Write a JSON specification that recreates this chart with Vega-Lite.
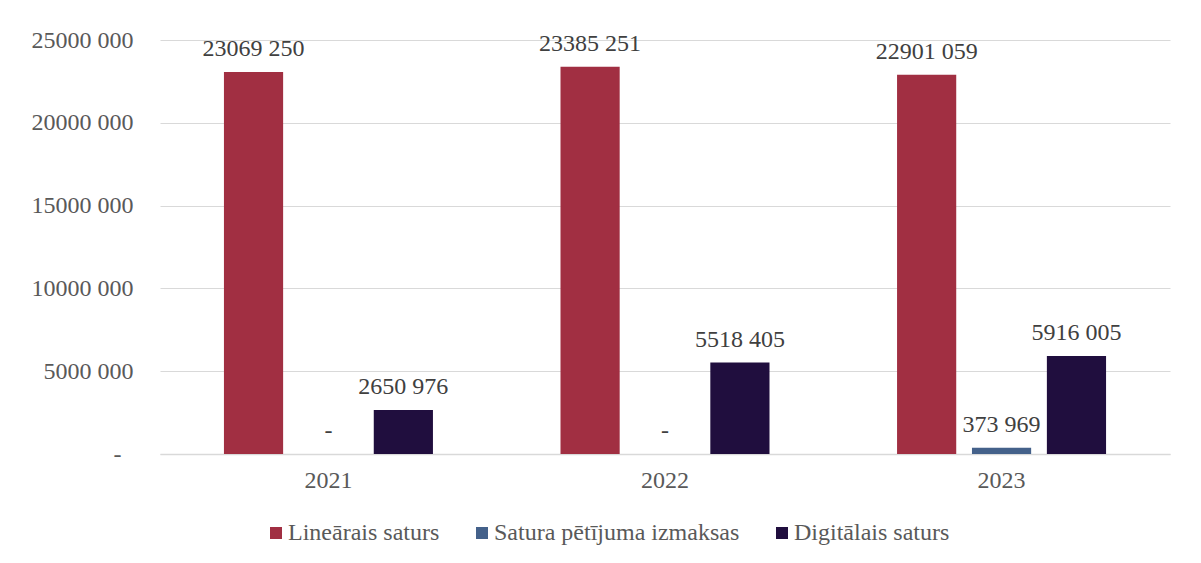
{
  "$schema": "https://vega.github.io/schema/vega-lite/v6.json",
  "width": 1010,
  "height": 414,
  "autosize": {"type": "none"},
  "padding": {"left": 160, "top": 40, "right": 31, "bottom": 109},
  "background": "white",
  "config": {
    "font": "Liberation Serif",
    "text": {"font": "Liberation Serif"},
    "axis": {"labelFont": "Liberation Serif"},
    "legend": {"labelFont": "Liberation Serif"},
    "view": {"stroke": null}
  },
  "data": {
    "values": [
      {"year": "2021", "series": "Lineārais saturs", "value": 23069250},
      {"year": "2021", "series": "Satura pētījuma izmaksas", "value": 0},
      {"year": "2021", "series": "Digitālais saturs", "value": 2650976},
      {"year": "2022", "series": "Lineārais saturs", "value": 23385251},
      {"year": "2022", "series": "Satura pētījuma izmaksas", "value": 0},
      {"year": "2022", "series": "Digitālais saturs", "value": 5518405},
      {"year": "2023", "series": "Lineārais saturs", "value": 22901059},
      {"year": "2023", "series": "Satura pētījuma izmaksas", "value": 373969},
      {"year": "2023", "series": "Digitālais saturs", "value": 5916005}
    ]
  },
  "transform": [
    {"calculate": "datum.value == 0 ? '-' : (datum.value >= 1000 ? format(floor(datum.value / 1000), 'd') + ' ' + format(datum.value % 1000, '03d') : format(datum.value, 'd'))", "as": "label"}
  ],
  "encoding": {
    "x": {
      "field": "year",
      "type": "nominal",
      "scale": {"paddingInner": 0.379, "paddingOuter": 0.19},
      "axis": {
        "title": null,
        "labelAngle": 0,
        "labelFont": "Liberation Serif",
        "labelFontSize": 24,
        "labelColor": "#595959",
        "labelPadding": 14,
        "ticks": false,
        "domain": true,
        "domainColor": "#D9D9D9",
        "domainWidth": 1.5,
        "grid": false
      }
    },
    "xOffset": {
      "field": "series",
      "type": "nominal",
      "sort": ["Lineārais saturs", "Satura pētījuma izmaksas", "Digitālais saturs"],
      "scale": {"paddingInner": 0.21, "paddingOuter": 0}
    },
    "y": {
      "field": "value",
      "type": "quantitative",
      "scale": {"domain": [0, 25000000], "nice": false},
      "axis": {
        "title": null,
        "values": [0, 5000000, 10000000, 15000000, 20000000, 25000000],
        "labelExpr": "datum.value == 0 ? '-' : format(floor(datum.value / 1000), 'd') + ' ' + format(datum.value % 1000, '03d')",
        "labelFont": "Liberation Serif",
        "labelFontSize": 24,
        "labelColor": "#595959",
        "labelPadding": {"condition": {"test": "datum.value == 0", "value": 39}, "value": 27},
        "ticks": false,
        "domain": false,
        "grid": true,
        "gridColor": "#D9D9D9",
        "gridWidth": 1
      }
    }
  },
  "layer": [
    {
      "mark": {"type": "bar"},
      "encoding": {
        "color": {
          "field": "series",
          "type": "nominal",
          "scale": {
            "domain": ["Lineārais saturs", "Satura pētījuma izmaksas", "Digitālais saturs"],
            "range": ["#A12F42", "#44618A", "#200E3E"]
          },
          "legend": {
            "title": null,
            "orient": "none",
            "legendX": 104,
            "legendY": 481,
            "direction": "horizontal",
            "symbolType": "square",
            "symbolSize": 144,
            "symbolStrokeWidth": 0,
            "labelFont": "Liberation Serif",
            "labelFontSize": 24,
            "labelColor": "#595959",
            "labelLimit": 0,
            "labelOffset": 0,
            "columnPadding": 30,
            "padding": 0
          }
        }
      }
    },
    {
      "mark": {"type": "text", "font": "Liberation Serif", "baseline": "alphabetic", "dy": -16, "fontSize": 24, "color": "#404040"},
      "encoding": {
        "text": {"field": "label", "type": "nominal"}
      }
    }
  ]
}
